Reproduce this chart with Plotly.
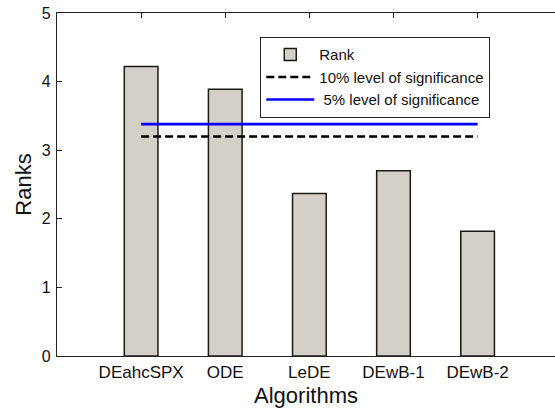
import plotly.graph_objects as go

categories = ["DEahcSPX", "ODE", "LeDE", "DEwB-1", "DEwB-2"]
tick_labels = ["DEahcSPX", "ODE", "LeDE", "DEwB-1", "DEwB-2"]
ranks = [4.22, 3.89, 2.37, 2.70, 1.82]
sig10 = 3.20
sig5 = 3.38
yticks = [0, 1, 2, 3, 4, 5]

FONT = "Liberation Sans, Arial, sans-serif"

fig = go.Figure()
fig.add_trace(go.Bar(
    x=categories, y=ranks, name="Rank", width=0.4,
    marker=dict(color="#D4D0C8", line=dict(color="#1a1a1a", width=1.5)),
))
fig.add_trace(go.Scatter(
    x=[categories[0], categories[-1]], y=[sig10, sig10], mode="lines",
    name="10% level of significance",
    line=dict(color="black", width=2.6, dash="8px,4px"),
))
fig.add_trace(go.Scatter(
    x=[categories[0], categories[-1]], y=[sig5, sig5], mode="lines",
    name=" 5% level of significance",
    line=dict(color="#0000FF", width=2.6),
))

fig.update_layout(
    width=555, height=408,
    margin=dict(l=57, r=0, t=13, b=52),
    paper_bgcolor="white", plot_bgcolor="white",
    font=dict(family=FONT, color="#111"),
    showlegend=True,
    legend=dict(
        x=0.4076, y=0.93, xanchor="left", yanchor="top",
        bordercolor="#222", borderwidth=1.3, bgcolor="white",
        font=dict(size=15, family=FONT, color="#111"),
        tracegroupgap=0, traceorder="normal", itemwidth=48,
    ),
    bargap=0.6,
)
fig.update_xaxes(
    type="category", categoryorder="array", categoryarray=categories,
    tickvals=categories, ticktext=tick_labels,
    range=[-1, 4.92], showgrid=False, zeroline=False,
    showline=True, linecolor="#222", linewidth=1.3, mirror="ticks",
    ticks="inside", ticklen=5, tickcolor="#222", tickwidth=1,
    tickfont=dict(size=17, family=FONT, color="#111"),
    ticklabelstandoff=0, layer="below traces", automargin="left+right",
    title=dict(text="Algorithms", font=dict(size=22, family=FONT, color="#111"), standoff=12),
)
fig.update_yaxes(
    range=[0, 5], tickvals=yticks, ticktext=[str(v) for v in yticks],
    showgrid=False, zeroline=False,
    showline=True, linecolor="#222", linewidth=1.3, mirror=False,
    ticks="inside", ticklen=5, tickcolor="#222", tickwidth=1,
    tickfont=dict(size=16, family=FONT, color="#111"),
    ticklabelstandoff=2, automargin="top+bottom",
    title=dict(text="Ranks", font=dict(size=22, family=FONT, color="#111"), standoff=4),
)

fig.write_html("out.html")
